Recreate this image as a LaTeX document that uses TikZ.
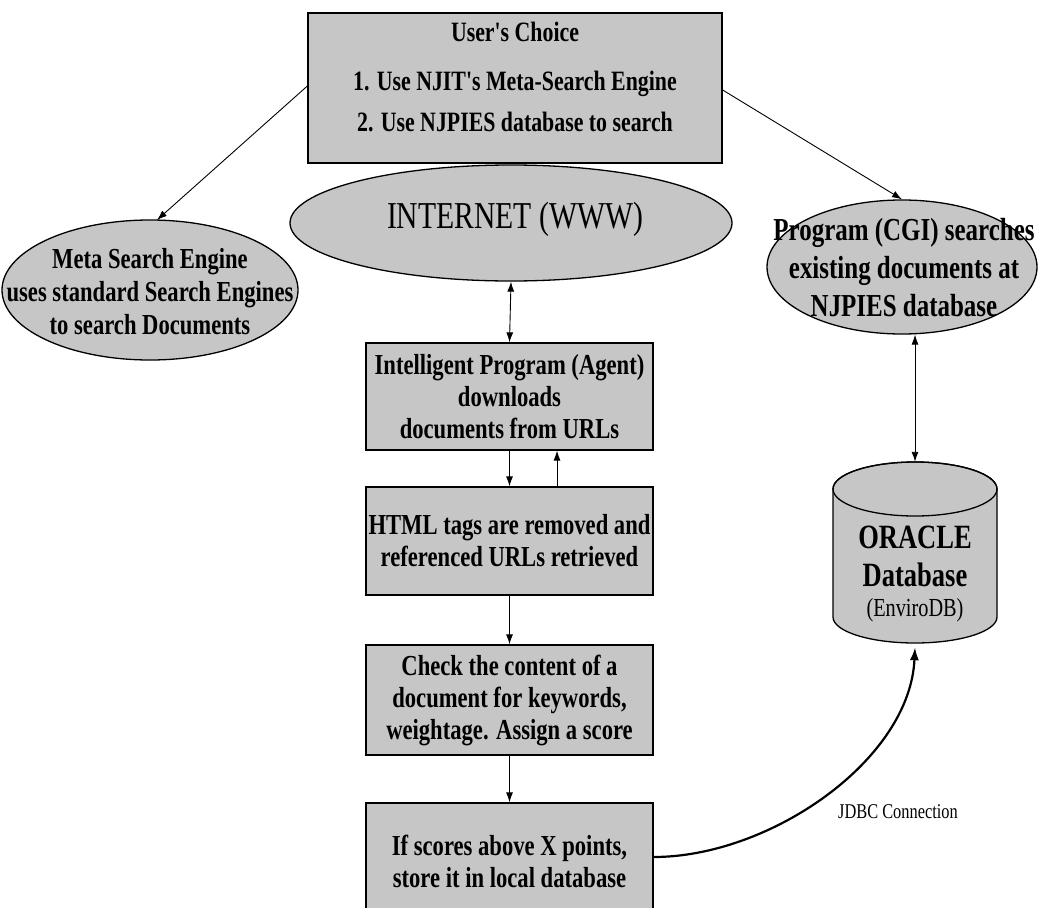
\documentclass[tikz,border=0pt]{standalone}
\usepackage{fontspec}
\setmainfont{Liberation Serif}[FakeStretch=0.78]
\newfontfamily\heavy{Liberation Serif}[FakeStretch=0.78]
\usetikzlibrary{shapes.geometric,arrows.meta}
\begin{document}
\begin{tikzpicture}[x=1pt,y=-1pt,
  proc/.style={draw=black, line width=1.3pt, fill=gray!45, rectangle, minimum width=287pt, inner sep=0pt, align=center, font=\heavy\bfseries\fontsize{29}{32}\selectfont},
  oval/.style={draw=black, line width=1.3pt, fill=gray!45, ellipse, inner sep=0pt},
  txt/.style={align=center, inner sep=0pt, font=\heavy\bfseries\fontsize{29}{33}\selectfont},
  arr/.style={-{Latex[length=10pt,width=7pt]}, line width=0.9pt},
  darr/.style={{Latex[length=10pt,width=7pt]}-{Latex[length=10pt,width=7pt]}, line width=0.9pt}]
\useasboundingbox (0,0) rectangle (1038,907);
\clip (0,0) rectangle (1038,907);

% top box
\node[proc, minimum width=414pt, minimum height=150pt] (choice) at (515,88) {};
\node[txt, font=\heavy\bfseries\fontsize{28}{32}\selectfont] (choiceA) at (515,32) {User's Choice};
\node[txt, font=\heavy\bfseries\fontsize{28}{32}\selectfont] (choiceB) at (515,84) {1. Use NJIT's Meta-Search Engine};
\node[txt, font=\heavy\bfseries\fontsize{28}{32}\selectfont] (choiceC) at (515,122) {2. Use NJPIES database to search};

% ellipses
\node[oval, minimum width=442pt, minimum height=116pt] (net) at (511,223) {};
\node[txt, font=\heavy\fontsize{38}{40}\selectfont] (nett) at (515,219) {INTERNET (WWW)};

\node[oval, minimum width=296pt, minimum height=140pt] (meta) at (150,290) {};
\node[txt] (metat) at (150,292) {Meta Search Engine\\uses standard Search Engines\\to search Documents};

\node[oval, minimum width=270pt, minimum height=134pt] (cgi) at (902,267) {};
\node[txt, font=\heavy\bfseries\fontsize{32}{38}\selectfont] (cgit) at (904,268) {Program (CGI) searches\\existing documents at\\NJPIES database};

% process boxes
\node[proc, minimum height=107pt] (agent) at (509.5,396.5) {Intelligent Program (Agent)\\downloads\\documents from URLs};
\node[proc, minimum height=108pt] (html) at (509.5,541) {HTML tags are removed and\\referenced URLs retrieved};
\node[proc, minimum height=110pt] (check) at (509.5,700) {Check the content of a\\document for keywords,\\weightage. Assign a score};
\node[proc, minimum height=116pt] (store) at (509.5,861) {If scores above X points,\\store it in local database};

% cylinder database
\node[minimum width=164pt, minimum height=181pt, inner sep=0pt] (db) at (915,552.5) {};
\filldraw[fill=gray!45, line width=1.3pt]
  (833,489) -- (833,617)
  .. controls (833,631.4) and (869.7,643) .. (915,643)
  .. controls (960.3,643) and (997,631.4) .. (997,617)
  -- (997,489)
  .. controls (997,474.1) and (960.3,462) .. (915,462)
  .. controls (869.7,462) and (833,474.1) .. (833,489) -- cycle;
\draw[line width=1.3pt] (915,489) ellipse [x radius=82, y radius=27];
\node[txt, font=\heavy\bfseries\fontsize{34}{36}\selectfont] (dbA) at (915,537) {ORACLE};
\node[txt, font=\heavy\bfseries\fontsize{34}{36}\selectfont] (dbB) at (915,575) {Database};
\node[txt, font=\heavy\fontsize{26}{28}\selectfont] (dbC) at (915,610) {(EnviroDB)};

% connectors
\draw[arr] (choice.west |- 0,86) -- (157,220);
\draw[arr] (choice.east |- 0,90) -- (cgi.north);
\draw[darr] (net.south) -- (agent.north);
\draw[arr] (agent.south) -- (html.north);
\draw[arr] ([xshift=47.5pt]html.north) -- ([xshift=47.5pt]agent.south);
\draw[arr] (html.south) -- (check.north);
\draw[arr] (check.south) -- (store.north);
\draw[darr] (db.north |- cgi.south) -- (db.north);
\draw[-{Latex[length=13pt,width=9pt]}, line width=2.2pt] (store.east |- 0,857) .. controls (770,857) and (910,760) .. ([yshift=-4pt]db.south);
\node[font=\fontsize{21}{22}\selectfont, inner sep=0pt] (jdbc) at (898,812) {JDBC Connection};
\end{tikzpicture}
\end{document}
